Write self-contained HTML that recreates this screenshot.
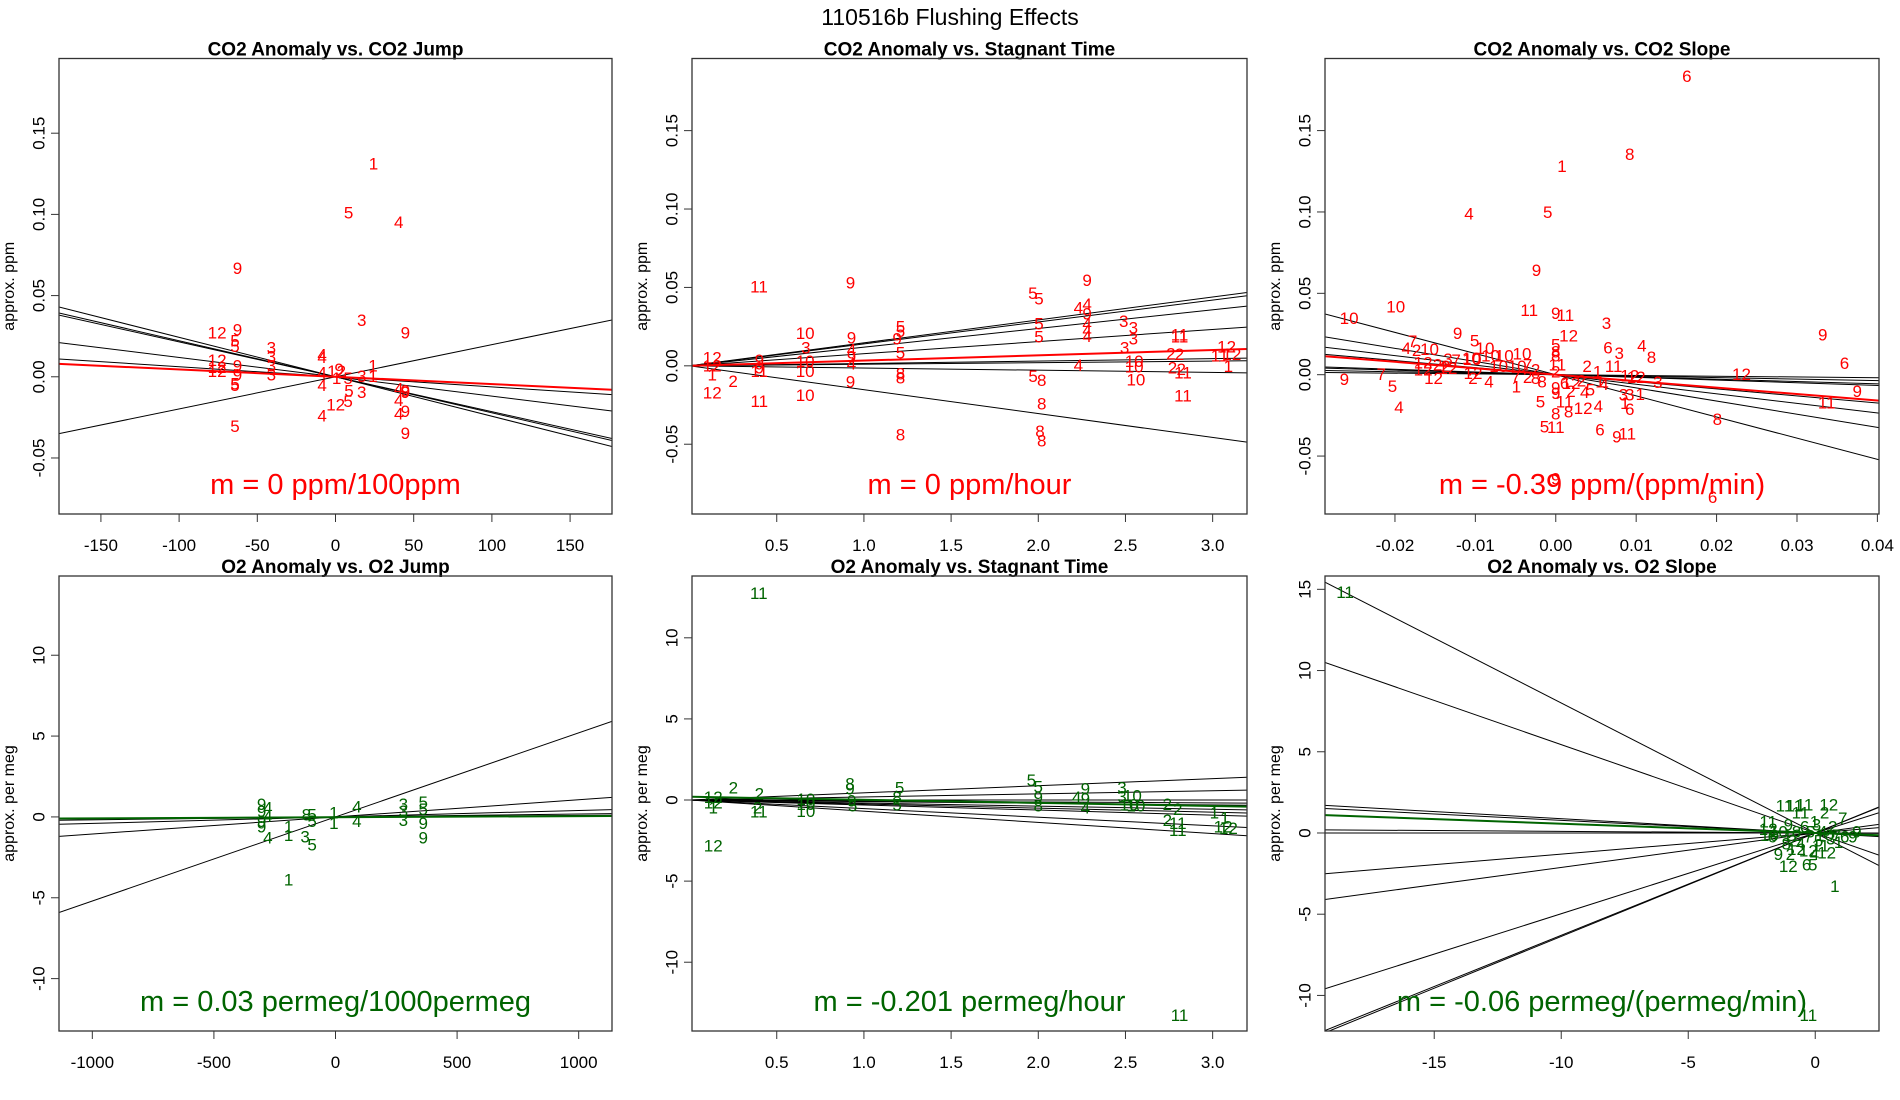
<!DOCTYPE html>
<html><head><meta charset="utf-8"><style>
html,body{margin:0;padding:0;background:#fff;}
svg{display:block;font-family:"Liberation Sans",sans-serif;}
</style></head><body>
<svg id="fig" width="1900" height="1100" viewBox="0 0 1900 1100" xmlns="http://www.w3.org/2000/svg">
<text x="950" y="25" text-anchor="middle" font-size="23">110516b   Flushing Effects</text>
</svg>
<script>
// ---------- data ----------
const p1Slopes=[-2.43e-4,-2.22e-4,-2.15e-4,-1.19e-4,-0.62e-4,1.98e-4];
const p1Fit=[0,-0.45e-4];
const p1Pts=[[24.3,0.131,'1'],[8.4,0.101,'5'],[40.4,0.095,'4'],[-62.7,0.0667,'9'],[16.8,0.0348,'3'],[44.7,0.027,'9'],[-75.7,0.027,'12'],[-62.7,0.0287,'9'],[-64.3,0.022,'5'],[-64.3,0.0188,'5'],[-41,0.0177,'3'],[-41,0.0122,'3'],[-41,0.0067,'3'],[-41,0.0012,'3'],[-8.6,0.0133,'4'],[-8.6,0.012,'4'],[-75.7,0.010,'12'],[-75.7,0.0056,'12'],[-75.7,0.0034,'12'],[-62.7,0.0067,'9'],[-62.7,0.0012,'9'],[-64.3,-0.0043,'5'],[-64.3,-0.0055,'5'],[-8.6,0.0023,'4'],[-8.6,-0.0054,'4'],[0.7,0.0034,'12'],[2.3,0.0045,'9'],[0.7,-0.001,'1'],[8.1,-0.001,'5'],[16.8,0.0001,'3'],[24,0.0067,'1'],[24,0.0001,'1'],[16.8,-0.0098,'3'],[8.6,-0.0087,'5'],[40.4,-0.0076,'4'],[44.7,-0.0087,'9'],[44.7,-0.0098,'9'],[40.4,-0.0146,'4'],[0.1,-0.0175,'12'],[8.1,-0.0153,'5'],[-8.6,-0.024,'4'],[40.4,-0.023,'4'],[44.7,-0.0214,'9'],[44.7,-0.035,'9'],[-64.3,-0.0307,'5']];
const p2Slopes=[0.01464,0.01398,0.01192,0.00773,0.00153,0.001,-0.0014,-0.01523];
const p2Fit=[0,0.00335];
const p2Pts=[[0.398,0.0503,'11'],[0.923,0.0528,'9'],[1.969,0.046,'5'],[2.004,0.0426,'5'],[2.28,0.0545,'9'],[2.23,0.0368,'4'],[2.28,0.039,'4'],[2.28,0.0332,'9'],[2.004,0.0268,'5'],[2.004,0.0183,'5'],[2.49,0.0283,'3'],[2.545,0.024,'3'],[2.545,0.0171,'3'],[2.495,0.0113,'3'],[2.28,0.0268,'4'],[2.28,0.0226,'4'],[2.28,0.0187,'4'],[2.81,0.0197,'11'],[2.81,0.0185,'11'],[0.663,0.0205,'10'],[0.667,0.0113,'3'],[0.663,0.0028,'10'],[0.663,-0.0036,'10'],[0.929,0.0177,'9'],[0.929,0.0102,'4'],[0.929,0.0056,'9'],[0.929,0.0013,'4'],[1.21,0.0247,'5'],[1.21,0.022,'5'],[1.19,0.0171,'9'],[1.21,0.0081,'5'],[1.21,-0.0051,'8'],[1.21,-0.0078,'8'],[1.21,-0.044,'8'],[2.02,-0.0242,'8'],[2.01,-0.0419,'8'],[2.02,-0.048,'8'],[1.97,-0.0068,'5'],[2.02,-0.0093,'8'],[2.23,0.0003,'4'],[2.55,0.0028,'10'],[2.55,-0.0008,'10'],[2.56,-0.0089,'10'],[2.76,0.0077,'2'],[2.81,0.0071,'2'],[2.77,-0.0015,'2'],[2.82,-0.0025,'2'],[2.83,-0.0046,'11'],[2.83,-0.0191,'11'],[3.08,0.0119,'12'],[3.11,0.0071,'12'],[3.04,0.0064,'11'],[3.09,-0.0004,'1'],[0.13,0.0049,'12'],[0.13,0.0,'12'],[0.13,-0.0057,'1'],[0.25,-0.01,'2'],[0.13,-0.0174,'12'],[0.4,-0.0227,'11'],[0.4,0.0034,'9'],[0.4,-0.0015,'9'],[0.4,-0.0036,'11'],[0.923,-0.0104,'9'],[0.663,-0.019,'10']];
const p3Slopes=[-0.047,-0.09,-0.14,-0.165,-0.435,-0.587,-0.81,-1.30];
const p3Fit=[0,-0.396];
const p3Pts=[[0.0163,0.1833,'6'],[0.0092,0.1352,'8'],[0.00077,0.128,'1'],[-0.0108,0.0988,'4'],[-0.001,0.0997,'5'],[-0.0024,0.0639,'9'],[-0.0199,0.0417,'10'],[-0.0257,0.0344,'10'],[-0.0033,0.0395,'11'],[0.0,0.0377,'9'],[0.0012,0.0364,'11'],[0.0063,0.0314,'3'],[0.0016,0.0237,'12'],[-0.0122,0.0254,'9'],[0.0332,0.0243,'9'],[0.0359,0.0068,'6'],[0.0375,-0.0103,'9'],[0.0337,-0.0174,'11'],[0.0231,0.0002,'12'],[0.0201,-0.0275,'8'],[0.0195,-0.0756,'6'],[0.0,-0.0642,'9'],[0.0065,0.0164,'6'],[0.0079,0.0131,'3'],[0.0107,0.0175,'4'],[0.0119,0.0105,'8'],[-0.0101,0.0208,'5'],[-0.0088,0.016,'10'],[-0.0178,0.0204,'7'],[-0.0186,0.016,'4'],[-0.0173,0.015,'2'],[-0.0157,0.0156,'10'],[-0.0064,0.0116,'10'],[-0.0042,0.0127,'10'],[-0.0105,0.0099,'10'],[-0.0263,-0.0031,'9'],[-0.0217,0.0,'7'],[-0.0203,-0.0071,'5'],[-0.0195,-0.0202,'4'],[-0.0152,-0.0022,'12'],[-0.0103,0.0006,'12'],[-0.0103,-0.0022,'2'],[-0.0083,-0.0044,'4'],[-0.0049,-0.0075,'1'],[0.0039,0.005,'2'],[0.0052,0.0017,'1'],[0.0072,0.005,'11'],[-0.0019,-0.0169,'5'],[0.0,-0.0242,'8'],[0.0016,-0.0229,'8'],[0.0034,-0.0207,'12'],[0.0053,-0.0196,'4'],[-0.0014,-0.032,'5'],[0.0,-0.0323,'11'],[0.0055,-0.0341,'6'],[0.0076,-0.0383,'9'],[0.0089,-0.0363,'11'],[0.0084,-0.0126,'3'],[0.0092,-0.0126,'3'],[0.0105,-0.0121,'1'],[0.0086,-0.0176,'1'],[0.0092,-0.0213,'6'],[0.0036,-0.011,'4'],[0.0043,-0.0093,'5'],[0.0019,-0.0104,'2'],[0.0011,-0.0169,'11'],[0.0,-0.0082,'9'],[0.0,-0.0115,'9'],[0.0011,-0.0053,'6'],[0.0019,-0.0053,'12'],[0.0032,-0.0038,'2'],[0.006,-0.0059,'4'],[0.0055,-0.0044,'1'],[0.0092,-0.0009,'12'],[0.01,-0.0016,'12'],[0.0127,-0.0048,'3'],[0.0,0.0182,'5'],[0.0,0.0138,'8'],[0.0,0.0116,'8'],[0.0002,0.006,'11'],[0.0,0.0017,'2'],[-0.0081,0.0116,'10'],[-0.0071,0.005,'10'],[-0.0048,0.005,'10'],[-0.0035,0.006,'7'],[-0.0025,0.0028,'2'],[-0.0134,0.0094,'3'],[-0.0124,0.0088,'7'],[-0.0104,0.0094,'10'],[-0.0165,0.0072,'12'],[-0.0147,0.0061,'2'],[-0.0137,0.005,'2'],[-0.0165,0.0028,'12'],[-0.0134,0.0039,'12'],[-0.005,-0.0016,'7'],[-0.0035,-0.0016,'2'],[-0.0025,-0.0022,'8'],[-0.0017,-0.0044,'8']];
const p4Slopes=[5.2e-3,1.06e-3,0.4e-3,0.18e-3,0.09e-3];
const p4Fit=[-0.02,0.07e-3];
const p4Pts=[[-304,0.77,'9'],[-304,0.35,'9'],[-304,-0.29,'9'],[-304,-0.61,'9'],[-278,0.56,'4'],[-278,0.03,'4'],[-278,-1.31,'4'],[-193,-0.61,'1'],[-193,-1.14,'1'],[-193,-3.9,'1'],[-125,-1.24,'3'],[-96,-1.73,'5'],[-120,0.13,'8'],[-96,0.13,'5'],[-96,-0.29,'5'],[-7,0.24,'1'],[-7,-0.4,'1'],[88,0.6,'4'],[88,-0.29,'4'],[279,0.77,'3'],[279,0.35,'3'],[279,-0.23,'3'],[361,0.88,'5'],[361,0.45,'5'],[361,-0.4,'9'],[361,-1.31,'9']];
const p5Slopes=[0.44,0.19,0,-0.06,-0.1,-0.19,-0.25,-0.31,-0.53,-0.69];
const p5Fit=[0.2,-0.19];
const p5Pts=[[0.397,12.74,'11'],[2.81,-13.27,'11'],[0.136,-2.82,'12'],[0.251,0.75,'2'],[0.40,0.36,'2'],[0.39,-0.49,'2'],[0.397,-0.74,'11'],[0.136,0.15,'12'],[0.136,-0.17,'12'],[0.136,-0.49,'1'],[0.667,0.04,'10'],[0.667,-0.7,'10'],[0.667,-0.27,'10'],[0.92,1.0,'8'],[0.92,0.68,'9'],[0.93,-0.06,'9'],[0.935,-0.38,'5'],[1.205,0.75,'5'],[1.19,0.15,'8'],[1.19,-0.32,'5'],[1.96,1.21,'5'],[2.0,0.79,'5'],[2.0,0.15,'9'],[2.0,-0.38,'8'],[2.22,0.15,'4'],[2.27,0.68,'9'],[2.27,0.05,'9'],[2.27,-0.49,'4'],[2.48,0.75,'3'],[2.48,0.19,'3'],[2.54,0.26,'10'],[2.52,-0.32,'10'],[2.56,-0.38,'10'],[2.74,-0.27,'2'],[2.8,-0.59,'2'],[2.74,-1.27,'2'],[2.8,-1.44,'11'],[2.8,-1.87,'11'],[3.01,-0.8,'1'],[3.07,-1.12,'1'],[3.06,-1.65,'12'],[3.09,-1.76,'12']];
const p6Slopes=[-0.80,-0.544,-0.088,-0.078,-0.01,0,0.13,0.212,0.497,0.637,0.63];
const p6Fit=[0,-0.057];
const p6Pts=[[-18.51,14.8,'11'],[-0.27,-11.23,'11'],[0.77,-3.3,'1'],[-1.06,-2.07,'12'],[-0.34,-1.96,'6'],[-0.1,-1.96,'5'],[-1.45,-1.32,'9'],[-0.98,-1.32,'2'],[-0.27,-1.11,'12'],[-0.03,-1.32,'4'],[0.45,-1.22,'12'],[-1.21,1.65,'11'],[-0.82,1.65,'11'],[-0.42,1.71,'11'],[0.53,1.71,'12'],[-0.58,1.22,'11'],[0.37,1.22,'2'],[1.08,0.9,'7'],[-1.85,0.69,'11'],[-1.85,0.22,'12'],[-1.8,-0.16,'10'],[-1.45,0.05,'10'],[-1.06,0.48,'9'],[-0.74,0.05,'8'],[-0.42,0.37,'6'],[-0.19,0.05,'5'],[0.05,0.48,'3'],[0.29,0.05,'4'],[0.69,0.37,'2'],[0.84,-0.16,'7'],[1.16,-0.26,'6'],[1.48,-0.26,'9'],[0.92,-0.58,'1'],[0.61,-0.37,'3'],[-1.69,-0.26,'6'],[-0.9,-0.48,'2'],[-0.58,-0.69,'4'],[-0.27,-0.26,'7'],[0.13,-0.48,'5'],[-1.14,-0.69,'8'],[0.37,-0.16,'10'],[-0.03,0.69,'1'],[-0.9,-0.16,'12'],[0.21,-0.79,'11'],[-0.74,-1.01,'12'],[1.64,0.05,'9']];
const p1XTicks=[-150,-100,-50,0,50,100,150];
const timeTicks=[0.5,1.0,1.5,2.0,2.5,3.0];
const p3XTicks=[-0.02,-0.01,0.00,0.01,0.02,0.03,0.04];
const p4XTicks=[-1000,-500,0,500,1000];
const p6XTicks=[-15,-10,-5,0];
const co2YTicks=[-0.05,0.00,0.05,0.10,0.15];
const o2YTicks=[-10,-5,0,5,10];
const p6YTicks=[-10,-5,0,5,10,15];

// ---------- layout ----------
const panels=[
 {name:'co2-jump',title:'CO2 Anomaly vs. CO2 Jump',box:[59,612,58.5,514],xd:[-176.8,176.8],yd:[-0.0845,0.196],xt:p1XTicks,xf:v=>String(v),yt:co2YTicks,yf:v=>v.toFixed(2),ylab:'approx. ppm',slopes:p1Slopes,fit:p1Fit,pts:p1Pts,col:'#ff0000',m:'m = 0 ppm/100ppm'},
 {name:'co2-stagnant',title:'CO2 Anomaly vs. Stagnant Time',box:[692,1247,58.5,514],xd:[0.014,3.197],yd:[-0.0945,0.196],xt:timeTicks,xf:v=>v.toFixed(1),yt:co2YTicks,yf:v=>v.toFixed(2),ylab:'approx. ppm',slopes:p2Slopes,fit:p2Fit,pts:p2Pts,col:'#ff0000',m:'m = 0 ppm/hour'},
 {name:'co2-slope',title:'CO2 Anomaly vs. CO2 Slope',box:[1325,1879,58.5,514],xd:[-0.0287,0.0402],yd:[-0.0856,0.1943],xt:p3XTicks,xf:v=>v.toFixed(2),yt:co2YTicks,yf:v=>v.toFixed(2),ylab:'approx. ppm',slopes:p3Slopes,fit:p3Fit,pts:p3Pts,col:'#ff0000',m:'m = -0.39 ppm/(ppm/min)'},
 {name:'o2-jump',title:'O2 Anomaly vs. O2 Jump',box:[59,612,576,1031],xd:[-1137,1137],yd:[-13.24,14.9],xt:p4XTicks,xf:v=>String(v),yt:o2YTicks,yf:v=>String(v),ylab:'approx. per meg',slopes:p4Slopes,fit:p4Fit,pts:p4Pts,col:'#006400',m:'m = 0.03 permeg/1000permeg'},
 {name:'o2-stagnant',title:'O2 Anomaly vs. Stagnant Time',box:[692,1247,576,1031],xd:[0.014,3.197],yd:[-14.24,13.81],xt:timeTicks,xf:v=>v.toFixed(1),yt:o2YTicks,yf:v=>String(v),ylab:'approx. per meg',slopes:p5Slopes,fit:p5Fit,pts:p5Pts,col:'#006400',m:'m = -0.201 permeg/hour'},
 {name:'o2-slope',title:'O2 Anomaly vs. O2 Slope',box:[1325,1879,576,1031],xd:[-19.3,2.51],yd:[-12.19,15.82],xt:p6XTicks,xf:v=>String(v),yt:p6YTicks,yf:v=>String(v),ylab:'approx. per meg',slopes:p6Slopes,fit:p6Fit,pts:p6Pts,col:'#006400',m:'m = -0.06 permeg/(permeg/min)'}
];
const NS='http://www.w3.org/2000/svg';
const svg=document.getElementById('fig');
function mk(tag,attrs,parent,txt){const e=document.createElementNS(NS,tag);for(const k in attrs)e.setAttribute(k,attrs[k]);if(txt!==undefined)e.textContent=txt;parent.appendChild(e);return e;}
const defs=mk('defs',{},svg);
panels.forEach((p,i)=>{
 const [x0,x1,y0,y1]=p.box;
 const sx=v=>x0+(v-p.xd[0])/(p.xd[1]-p.xd[0])*(x1-x0);
 const sy=v=>y1-(v-p.yd[0])/(p.yd[1]-p.yd[0])*(y1-y0);
 const g=mk('g',{},svg);
 
 
 const cp=mk('clipPath',{id:'clip'+i},defs);
 mk('rect',{x:x0,y:y0,width:x1-x0,height:y1-y0},cp);
 const t=mk('text',{x:(x0+x1)/2,y:y0-3,'text-anchor':'middle','font-size':19,'font-weight':'bold'},g,p.title);
 
 
 p.xt.forEach(v=>{const X=sx(v);
  mk('line',{x1:X,x2:X,y1:y1,y2:y1+8,stroke:'#333','stroke-width':1},g);
  const tl=mk('text',{x:X,y:y1+37,'text-anchor':'middle','font-size':17},g,p.xf(v));
  
  
 });
 p.yt.forEach(v=>{const Y=sy(v);
  mk('line',{x1:x0-8,x2:x0,y1:Y,y2:Y,stroke:'#333','stroke-width':1},g);
  const tl=mk('text',{x:x0-20,y:Y,'text-anchor':'middle','font-size':17,transform:`rotate(-90 ${x0-20} ${Y})`,'dominant-baseline':'central'},g,p.yf(v));
  
  
 });
 const yc=(y0+y1)/2, xl=x0-45;
 const yl=mk('text',{x:xl,y:yc,'text-anchor':'middle','font-size':16,transform:`rotate(-90 ${xl} ${yc})`},g,p.ylab);
 
 
 const cg=mk('g',{'clip-path':`url(#clip${i})`},g);
 p.slopes.forEach(s=>{
  const l=mk('line',{x1:sx(p.xd[0]),y1:sy(s*p.xd[0]),x2:sx(p.xd[1]),y2:sy(s*p.xd[1]),stroke:'#000','stroke-width':1},cg);
  
  
 });
 const [b,m]=p.fit;
 const fl=mk('line',{x1:sx(p.xd[0]),y1:sy(b+m*p.xd[0]),x2:sx(p.xd[1]),y2:sy(b+m*p.xd[1]),stroke:p.col,'stroke-width':2},cg);
 
 
 p.pts.forEach(pt=>{
  const e=mk('text',{x:sx(pt[0]),y:sy(pt[1]),'text-anchor':'middle','dominant-baseline':'central','font-size':17,fill:p.col},cg,pt[2]);
  
  
 });
 const mt=mk('text',{x:(x0+x1)/2,y:y1-20,'text-anchor':'middle','font-size':29,fill:p.col},g,p.m);
 
 
 const bx=mk('rect',{x:x0,y:y0,width:x1-x0,height:y1-y0,fill:'none',stroke:'#333','stroke-width':1.3},g);
 
 
});
</script>
</body></html>
